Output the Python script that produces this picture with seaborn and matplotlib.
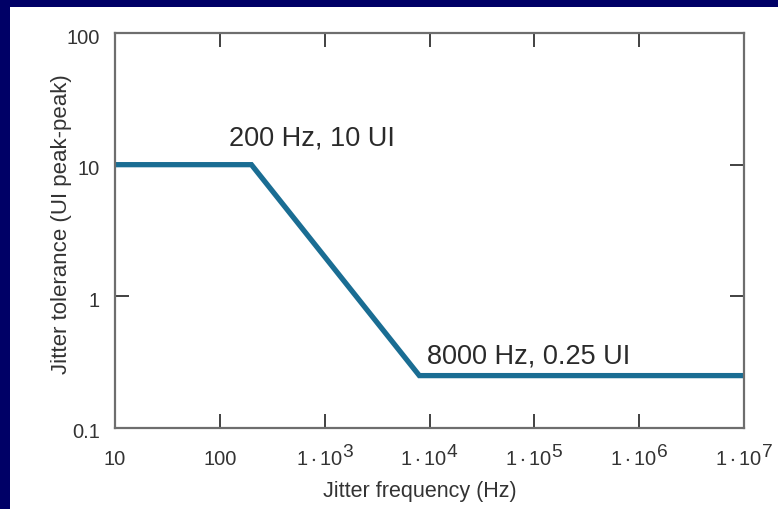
import matplotlib
matplotlib.use("Agg")
import matplotlib.pyplot as plt
import matplotlib._mathtext as _mt
import matplotlib.transforms as mtransforms
import seaborn as sns
import pandas as pd
from matplotlib.patches import Rectangle

# Jitter tolerance mask: corner points of the piecewise curve
freq_hz = [10, 200, 8000, 1e7]
tolerance_ui = [10, 10, 0.25, 0.25]

x_ticks = [10, 100, 1e3, 1e4, 1e5, 1e6, 1e7]
x_tick_labels = ["10", "100", r"$1\cdot10^{3}$", r"$1\cdot10^{4}$",
                 r"$1\cdot10^{5}$", r"$1\cdot10^{6}$", r"$1\cdot10^{7}$"]
y_ticks = [0.1, 1, 10, 100]
y_tick_labels = ["0.1", "1", "10", "100"]

corner_labels = ["200 Hz, 10 UI", "8000 Hz, 0.25 UI"]
# anchor points (Hz, UI) for the left/baseline of each corner label
label_pos = [(122, 14.1), (9490, 0.311)]

sns.set_style("white")
plt.rcParams["font.family"] = ["Liberation Sans", "DejaVu Sans"]
plt.rcParams["mathtext.fontset"] = "custom"
plt.rcParams["mathtext.rm"] = "Liberation Sans"
plt.rcParams["mathtext.it"] = "Liberation Sans"
plt.rcParams["mathtext.default"] = "regular"
# nearly full-size exponents in the power-of-ten tick labels
_mt.SHRINK_FACTOR = 0.95

W, H = 778, 509
fig = plt.figure(figsize=(W / 100, H / 100), dpi=100, facecolor="#000066")
# white slide panel inside the navy frame
fig.patches.append(Rectangle((10 / W, 0), 1 - 10 / W, 1 - 7 / H,
                             transform=fig.transFigure, facecolor="white",
                             edgecolor="none", zorder=-10))

ax = fig.add_axes([115 / W, (H - 428) / H, 629 / W, 395 / H])
ax.set_facecolor("white")

df = pd.DataFrame({"freq": freq_hz, "tol": tolerance_ui})
sns.lineplot(data=df, x="freq", y="tol", ax=ax, color="#1a6d93",
             linewidth=3.8, solid_joinstyle="miter", solid_capstyle="butt",
             sort=False)

ax.set_xscale("log")
ax.set_yscale("log")
ax.set_xlim(10, 1e7)
ax.set_ylim(0.1, 100)

ax.set_xticks(x_ticks)
ax.set_xticklabels(x_tick_labels)
ax.set_yticks(y_ticks)
ax.set_yticklabels(y_tick_labels)
ax.minorticks_off()

ax.tick_params(axis="both", which="major", direction="in", length=10,
               width=1.3, color="#333333", labelcolor="#333333",
               top=True, right=True, bottom=True, left=True)
ax.tick_params(axis="x", pad=26.5, labelsize=14.5)
ax.tick_params(axis="y", pad=11, labelsize=14.5)
for lbl in ax.get_xticklabels():
    lbl.set_va("baseline")
# y tick labels sit slightly below their ticks
down = mtransforms.ScaledTranslation(0, -3 / 100, fig.dpi_scale_trans)
for lbl in ax.get_yticklabels():
    lbl.set_transform(lbl.get_transform() + down)

for s in ax.spines.values():
    s.set_visible(True)
    s.set_color("#6e6e6e")
    s.set_linewidth(1.6)

ax.set_xlabel("Jitter frequency (Hz)", fontsize=15.5, color="#333333",
              labelpad=9)
ax.xaxis.label.set_x(0.485)
ax.set_ylabel("Jitter tolerance (UI peak-peak)", fontsize=16,
              color="#333333")
ax.yaxis.set_label_coords(-0.068, 0.515)

for text, (fx, fy) in zip(corner_labels, label_pos):
    ax.text(fx, fy, text, fontsize=19.5, color="#2a2a2a",
            ha="left", va="baseline")

fig.savefig("out.png", dpi=100, facecolor=fig.get_facecolor())
